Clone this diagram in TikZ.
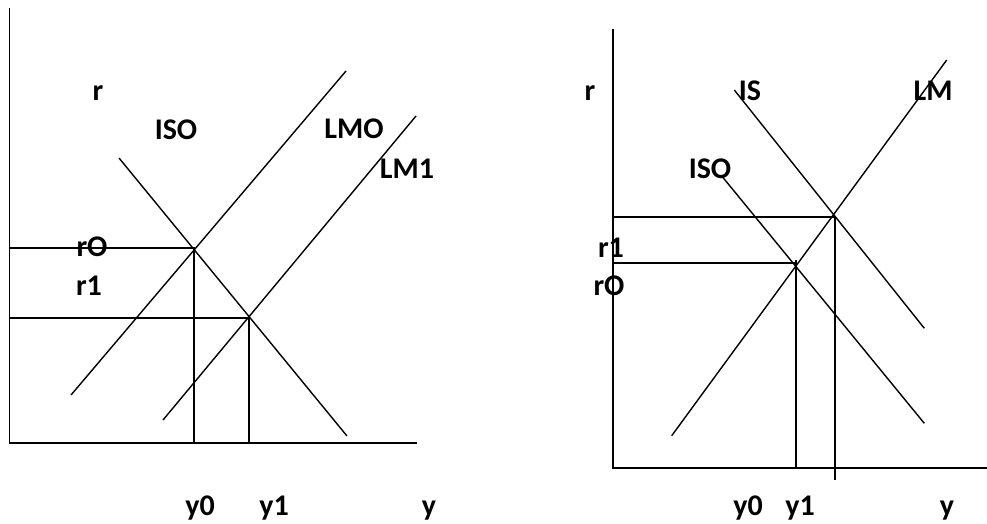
\documentclass[tikz,border=0pt]{standalone}
\usepackage{fontspec}
\setmainfont{Carlito}
\begin{document}
\begin{tikzpicture}[x=1pt,y=-1pt,
  ln/.style={line width=1.4pt,line cap=butt},
  lbl/.style={anchor=base,inner sep=0pt,font=\fontsize{30}{32}\selectfont\bfseries}]
\useasboundingbox[fill=white] (0,0) rectangle (987,523);
% ---------- left panel ----------
\coordinate (LAt) at (9.5,8);
\coordinate (LO) at (9.5,443);
\coordinate (LAr) at (417,443);
\coordinate (LM0a) at (71,395);
\coordinate (LM0b) at (346,71);
\coordinate (LM1a) at (163,420);
\coordinate (LM1b) at (416,116);
\coordinate (IS0a) at (119,158);
\coordinate (IS0b) at (347,436);
\coordinate (E0) at (194,248);
\coordinate (E1) at (249,318);
\coordinate (R0ax) at (9.5,248);
\coordinate (R1ax) at (9.5,318);
\coordinate (Y0ax) at (194,443);
\coordinate (Y1ax) at (249,443);
\draw[ln] (LAt) -- (LO) -- (LAr);
\draw[ln] (LM0a) -- (LM0b);
\draw[ln] (LM1a) -- (LM1b);
\draw[ln] (IS0a) -- (IS0b);
\draw[ln] (R0ax) -- (E0) -- (Y0ax);
\draw[ln] (R1ax) -- (E1) -- (Y1ax);
\node[lbl] (lr) at (98,100) {r};
\node[lbl] (liso) at (176,139) {ISO};
\node[lbl] (llm0) at (354,138) {LMO};
\node[lbl] (llm1) at (407,178) {LM1};
\node[lbl] (lr0) at (92,256) {rO};
\node[lbl] (lr1) at (89,295) {r1};
\node[lbl] (ly0) at (200,515) {y0};
\node[lbl] (ly1) at (274,515) {y1};
\node[lbl] (ly) at (429,515) {y};
% ---------- right panel ----------
\coordinate (RAt) at (613,29);
\coordinate (RO) at (613,468);
\coordinate (RAr) at (987,468);
\coordinate (LMa) at (671.7,435.7);
\coordinate (LMb) at (946.7,60);
\coordinate (ISa) at (734.3,90);
\coordinate (ISb) at (924.3,328.3);
\coordinate (ISOa) at (722.3,176.7);
\coordinate (ISOb) at (924.3,423.3);
\coordinate (F1) at (835,217);
\coordinate (F0) at (796,263);
\coordinate (F0top) at (796,260);
\coordinate (Rr1ax) at (613,217);
\coordinate (Rr0ax) at (613,263);
\coordinate (Ry0ax) at (796,468);
\coordinate (Ry1ax) at (835,480);
\draw[ln] (RAt) -- (RO) -- (RAr);
\draw[ln] (LMa) -- (LMb);
\draw[ln] (ISa) -- (ISb);
\draw[ln] (ISOa) -- (ISOb);
\draw[ln] (Rr1ax) -- (F1) -- (Ry1ax);
\draw[ln] (Rr0ax) -- (F0);
\draw[ln] (F0top) -- (Ry0ax);
\node[lbl] (rr) at (590,100) {r};
\node[lbl] (ris) at (750,100) {IS};
\node[lbl] (rlm) at (933,100) {LM};
\node[lbl] (riso) at (710,178) {ISO};
\node[lbl] (rr1) at (611,257) {r1};
\node[lbl] (rr0) at (609,295) {rO};
\node[lbl] (ry0) at (748,515) {y0};
\node[lbl] (ry1) at (800,515) {y1};
\node[lbl] (ry) at (947,515) {y};
\end{tikzpicture}
\end{document}
